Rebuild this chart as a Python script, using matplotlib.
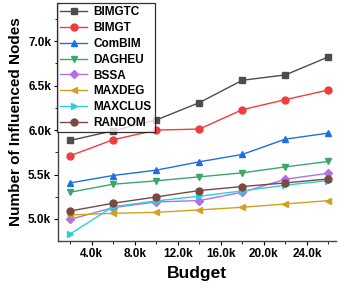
import matplotlib
matplotlib.use("Agg")
import matplotlib.pyplot as plt
from matplotlib.ticker import FuncFormatter, MultipleLocator

plt.rcParams["font.family"] = ["Liberation Sans", "DejaVu Sans"]

budget = [2, 6, 10, 14, 18, 22, 26]  # in thousands
series_names = ["BIMGTC", "BIMGT", "ComBIM", "DAGHEU", "BSSA", "MAXDEG", "MAXCLUS", "RANDOM"]
bimgtc = [5.883, 5.992, 6.113, 6.308, 6.560, 6.620, 6.823]
bimgt = [5.711, 5.891, 6.000, 6.011, 6.229, 6.342, 6.451]
combim = [5.406, 5.489, 5.549, 5.643, 5.726, 5.898, 5.966]
dagheu = [5.301, 5.391, 5.429, 5.474, 5.519, 5.586, 5.647]
bssa = [4.996, 5.128, 5.192, 5.207, 5.301, 5.447, 5.515]
maxdeg = [5.045, 5.064, 5.075, 5.102, 5.132, 5.169, 5.207]
maxclus = [4.831, 5.139, 5.203, 5.256, 5.316, 5.380, 5.432]
random_ = [5.090, 5.177, 5.248, 5.320, 5.365, 5.406, 5.451]

values = [bimgtc, bimgt, combim, dagheu, bssa, maxdeg, maxclus, random_]
colors = ["#4d4d4d", "#f03c3c", "#1f6fe0", "#3aa86a", "#b070e8", "#d4a020", "#2cd0d8", "#7a4a40"]
markers = ["s", "o", "^", "v", "D", "<", ">", "o"]
msizes = [4.5, 5, 5, 5, 4, 5, 5, 5]

fig = plt.figure(figsize=(3.38, 2.88), dpi=100)
ax = fig.add_axes([0.172, 0.163, 0.822, 0.827])

for name, vals, c, m, ms in zip(series_names, values, colors, markers, msizes):
    ax.plot(budget, vals, color=c, marker=m, markersize=ms, linewidth=1.0, label=name)

ax.set_xlim(0.89, 26.7)
ax.set_ylim(4.752, 7.43)
ax.xaxis.set_major_locator(MultipleLocator(4))
ax.xaxis.set_minor_locator(MultipleLocator(2))
ax.yaxis.set_major_locator(MultipleLocator(0.5))
ax.yaxis.set_minor_locator(MultipleLocator(0.25))
ax.xaxis.set_major_formatter(FuncFormatter(lambda v, p: f"{v:.1f}k"))
ax.yaxis.set_major_formatter(FuncFormatter(lambda v, p: f"{v:.1f}k"))
ax.set_xticks([4, 8, 12, 16, 20, 24])

for s in ["top", "right"]:
    ax.spines[s].set_visible(False)
for s in ["left", "bottom"]:
    ax.spines[s].set_color("#444444")
    ax.spines[s].set_linewidth(1.0)

ax.tick_params(axis="both", which="major", length=3, width=0.8, direction="out", labelsize=8.5, pad=2)
ax.tick_params(axis="both", which="minor", length=2, width=0.6, direction="out")
for lab in ax.get_xticklabels() + ax.get_yticklabels():
    lab.set_fontweight("bold")

ax.set_xlabel("Budget", fontsize=12.5, fontweight="bold", labelpad=4)
ax.set_ylabel("Number of Influenced Nodes", fontsize=11, fontweight="bold", labelpad=4)

leg = ax.legend(loc="upper left", bbox_to_anchor=(-0.005, 1.0), prop={"weight": "bold", "size": 8.5},
                frameon=True, fancybox=False, edgecolor="black", labelspacing=0.32,
                handlelength=2.3, handletextpad=0.5, borderpad=0.3, borderaxespad=0.0)
leg.get_frame().set_linewidth(0.9)

fig.savefig("out.png", dpi=100)
